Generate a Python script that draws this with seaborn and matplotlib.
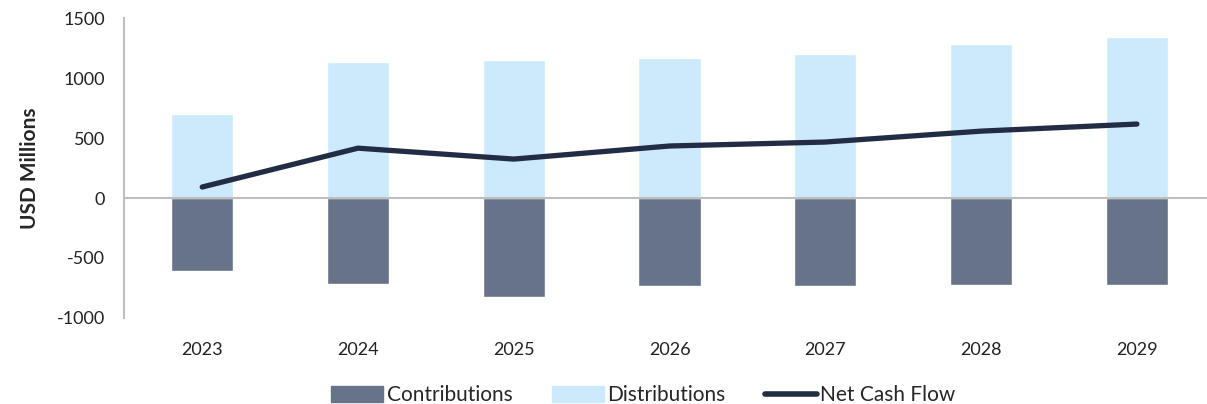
import numpy as np
import pandas as pd
import seaborn as sns
import matplotlib.pyplot as plt
from matplotlib.patches import Patch
from matplotlib.lines import Line2D

# Cash flow projections (USD millions)
years = ["2023", "2024", "2025", "2026", "2027", "2028", "2029"]
contributions = [-608, -717, -828, -733, -733, -725, -725]
distributions = [705, 1135, 1152, 1167, 1202, 1285, 1345]
net_cash_flow = [92, 416, 325, 434, 467, 558, 617]

c_contrib = "#667388"
c_dist = "#cceafc"
c_net = "#222c44"

sns.set_style("white")
plt.rcParams["font.family"] = ["Lato", "DejaVu Sans"]
plt.rcParams["axes.unicode_minus"] = False

fig = plt.figure(figsize=(12.07, 4.04), dpi=100)
ax = fig.add_axes([0.103, 0.213, 0.897, 0.742])

df = pd.DataFrame({"year": years, "contrib": contributions, "dist": distributions})
sns.barplot(data=df, x="year", y="dist", color=c_dist, width=0.4, saturation=1, ax=ax)
sns.barplot(data=df, x="year", y="contrib", color=c_contrib, width=0.4, saturation=1, ax=ax)
sns.lineplot(x=np.arange(len(years)), y=net_cash_flow, color=c_net, linewidth=3.8,
             solid_capstyle="round", ax=ax)

ax.axhline(0, color="#bfbfbf", linewidth=1.5, zorder=1)
ax.set_ylim(-1000, 1500)
ax.set_yticks([-1000, -500, 0, 500, 1000, 1500])
ax.set_xlim(-0.5, 6.45)
for s in ["top", "right", "bottom"]:
    ax.spines[s].set_visible(False)
ax.spines["left"].set_color("#bfbfbf")
ax.spines["left"].set_linewidth(1.5)
ax.tick_params(axis="both", length=0, labelsize=13, colors="#222222")
ax.tick_params(axis="x", pad=17)
ax.tick_params(axis="y", pad=14)
ax.set_xlabel("")
ax.set_ylabel("USD Millions", fontsize=15, fontweight="bold", labelpad=12)

handles = [Patch(color=c_contrib, label="Contributions"),
           Patch(color=c_dist, label="Distributions"),
           Line2D([0], [0], color=c_net, linewidth=4, label="Net Cash Flow")]
fig.legend(handles=handles, loc="lower center", bbox_to_anchor=(0.533, -0.05), ncol=3,
           frameon=False, fontsize=15, handlelength=2.5, handleheight=0.8,
           handletextpad=0.15, columnspacing=1.9)

fig.savefig("out.png", dpi=100)
